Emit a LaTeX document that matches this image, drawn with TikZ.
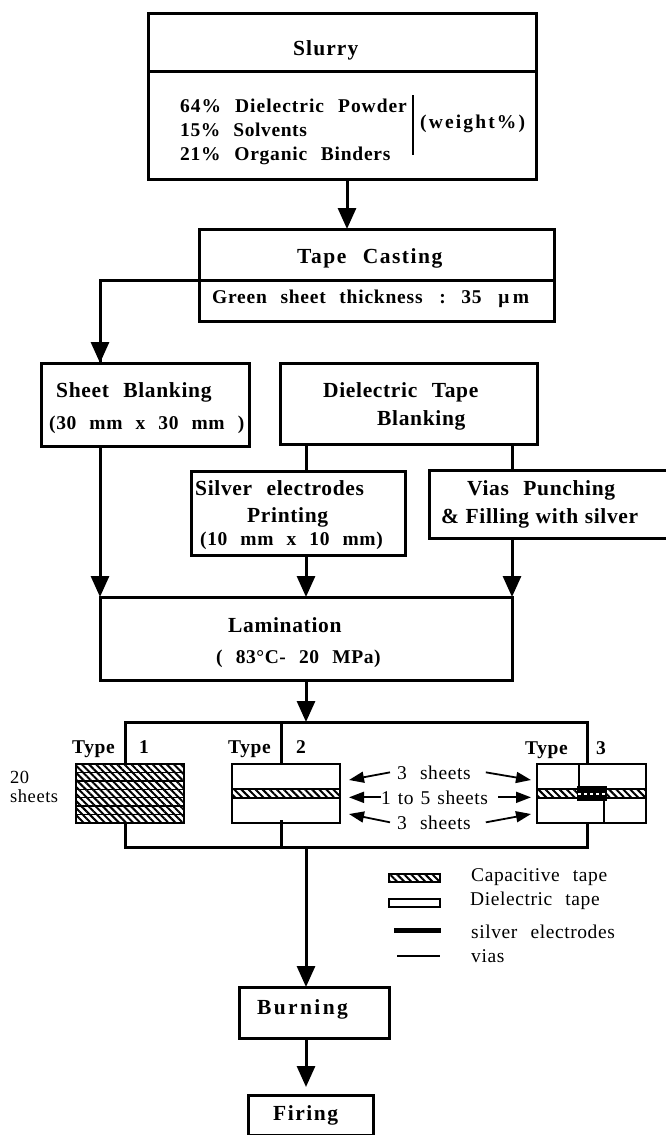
\documentclass[tikz,border=0pt]{standalone}
\usepackage{fontspec}
\setmainfont{Liberation Serif}
\newfontfamily\flowfont[LetterSpace=3,WordSpace=2.4]{Liberation Serif}
\newcommand{\tracked}[1]{\addfontfeature{LetterSpace=#1}}
\usetikzlibrary{arrows.meta,patterns.meta}

\tikzset{
	flowbox/.style={draw, line width=3pt, fill=white, inner sep=0pt, outer sep=0pt},
	thinbox/.style={draw, line width=1.8pt, fill=white, inner sep=0pt, outer sep=0pt},
	flowline/.style={line width=3pt, -{Triangle[length=21pt,width=18pt]}},
	plainline/.style={line width=3pt},
	sheetline/.style={line width=1.8pt, -{Triangle[length=15pt,width=11pt]}},
	headtext/.style={anchor=base west, inner sep=0pt, font=\flowfont\bfseries\fontsize{21.5}{24}\selectfont},
	subtext/.style={anchor=base west, inner sep=0pt, font=\flowfont\bfseries\fontsize{19.5}{22}\selectfont},
	platetext/.style={anchor=base west, inner sep=0pt, font=\flowfont\fontsize{19.5}{22}\selectfont},
	tapehatch/.style={draw, line width=1.5pt, fill=white, postaction={pattern={Lines[angle=-45,distance=5pt,line width=2pt]}}}
}

\begin{document}
\begin{tikzpicture}[x=1pt,y=-1pt]
	\useasboundingbox (0,0) rectangle (665,1135);

	% Columns the connectors run in
	\coordinate (colmain) at (347,0);
	\coordinate (colsheet) at (100,0);
	\coordinate (colmid) at (306,0);
	\coordinate (colvias) at (512,0);
	\coordinate (stubtwo) at (281,0);

	% Slurry
	\node[flowbox, minimum width=388pt, minimum height=58pt] (slurry) at (342,42) {};
	\node[flowbox, minimum width=388pt, minimum height=108pt] (slurrymix) at (342,125) {};
	\node[headtext] (slurrytext) at (293,55) {\tracked{5}Slurry};
	\node[subtext] (mixa) at (180,112) {\tracked{5}64\% Dielectric Powder};
	\node[subtext] (mixb) at (180,136) {15\% Solvents};
	\node[subtext] (mixc) at (180,160) {\tracked{4}21\% Organic Binders};
	\draw[line width=2pt] (413,95) -- (413,155);
	\node[subtext] (weighttext) at (420,128) {\tracked{11}(weight\%)};

	% Tape casting
	\node[flowbox, minimum width=355pt, minimum height=51pt] (tape) at (376.5,254.5) {};
	\node[flowbox, minimum width=355pt, minimum height=41pt] (tapeinfo) at (376.5,300.5) {};
	\node[headtext] (tapetext) at (297,263) {\tracked{7}Tape Casting};
	\node[subtext] (tapeinfotext) at (212,303) {\tracked{4}Green sheet thickness\, : 35 \,μ\,m};

	% Blanking
	\node[flowbox, minimum width=208pt, minimum height=83pt] (sheet) at (145,404.5) {};
	\node[headtext] (sheettext) at (56,397) {Sheet Blanking};
	\node[subtext] (sheetsize) at (49,429) {(30 mm x 30 mm )};
	\node[flowbox, minimum width=257pt, minimum height=81pt] (dielectric) at (408.5,403.5) {};
	\node[headtext] (dielectrica) at (323,397) {Dielectric Tape};
	\node[headtext] (dielectricb) at (377,425) {Blanking};

	% Printing and punching, the second box runs off the page
	\node[flowbox, minimum width=214pt, minimum height=84pt] (silver) at (298,513) {};
	\node[headtext] (silvera) at (195,495) {Silver electrodes};
	\node[headtext] (silverb) at (247,522) {Printing};
	\node[subtext] (silverc) at (200,545) {(10 mm x 10 mm)};
	\node[flowbox, minimum width=251pt, minimum height=68pt] (vias) at (554.5,504) {};
	\node[headtext] (viasa) at (467,495) {Vias Punching};
	\node[headtext] (viasb) at (441,523) {\spaceskip=6.5pt \& Filling with silver};

	% Lamination
	\node[flowbox, minimum width=412pt, minimum height=83pt] (lamination) at (306,638.5) {};
	\node[headtext] (laminationa) at (228,632) {Lamination};
	\node[subtext] (laminationb) at (216,663) {( 83°C- 20 MPa)};

	% Frame round the three types
	\node[flowbox, minimum width=462pt, minimum height=125pt, fill=none] (frame) at (356,784.5) {};
	\draw[plainline] (stubtwo |- frame.north) -- (stubtwo |- frame.south);

	% Type 1, seven capacitive sheets
	\node[thinbox, minimum width=108pt, minimum height=59pt] (typeone) at (130,793.5) {};
	\foreach \i in {0,...,6}
		\draw[tapehatch] (76,{764+\i*8.43}) rectangle (184,{764+(\i+1)*8.43});
	\node[subtext] (typeonetext) at (72,753) {Type};
	\node[subtext] (typeonenum) at (139,753) {1};
	\node[platetext, font=\flowfont\fontsize{18.5}{22}\selectfont] (twenty) at (10,783) {20};
	\node[platetext, font=\flowfont\fontsize{18.5}{22}\selectfont] (twentysheets) at (10,802) {sheets};

	% Type 2
	\node[thinbox, minimum width=108pt, minimum height=59pt] (typetwo) at (286,793.5) {};
	\draw[tapehatch] (232,789) rectangle (340,798);
	\draw[plainline] (stubtwo |- typetwo.south) -- ++(0,-3);
	\node[subtext] (typetwotext) at (228,753) {Type};
	\node[subtext] (typetwonum) at (296,753) {2};

	% Type 3
	\node[thinbox, minimum width=109pt, minimum height=59pt] (typethree) at (591.5,793.5) {};
	\draw[tapehatch] (537,789) rectangle (646,798);
	\draw[line width=1.5pt] (579,764) -- (579,787);
	\draw[line width=1.5pt] (604,800) -- (604,823);
	\fill (577,786) rectangle (607,801);
	\draw[line width=2pt, white, dashed] (578,793.5) -- (606,793.5);
	\node[subtext] (typethreetext) at (525,754) {Type};
	\node[subtext] (typethreenum) at (596,754) {3};

	% Sheet counts
	\node[platetext] (sheetsa) at (397,779) {3 sheets};
	\node[platetext] (sheetsb) at (381,804) {\spaceskip=7pt 1 to 5 sheets};
	\node[platetext] (sheetsc) at (397,829) {3 sheets};
	\coordinate (tipaleft) at (349,780);
	\coordinate (tipbleft) at (349,798);
	\coordinate (tipcleft) at (349,814);
	\coordinate (tiparight) at (531,780);
	\coordinate (tipbright) at (531,798);
	\coordinate (tipcright) at (531,814);
	\draw[sheetline] ([xshift=-7pt]sheetsa.west) -- (tipaleft);
	\draw[sheetline] (sheetsb.west) -- (tipbleft |- sheetsb.west);
	\draw[sheetline] ([xshift=-7pt]sheetsc.west) -- (tipcleft);
	\draw[sheetline] ([xshift=15pt]sheetsa.east) -- (tiparight);
	\draw[sheetline] ([xshift=10pt]sheetsb.east) -- (tipbright |- sheetsb.east);
	\draw[sheetline] ([xshift=15pt]sheetsc.east) -- (tipcright);

	% Legend
	\draw[tapehatch] (389,874) rectangle (440,882);
	\node[platetext] (legenda) at (471,881) {Capacitive tape};
	\draw[line width=1.5pt] (389,899) rectangle (440,907);
	\node[platetext] (legendb) at (470,905) {Dielectric tape};
	\draw[line width=5pt] (394,930) -- (441,930);
	\node[platetext] (legendc) at (471,938) {silver electrodes};
	\draw[line width=1.5pt] (397,956) -- (440,956);
	\node[platetext] (legendd) at (471,962) {vias};

	% Burning and firing, the last box is cut by the page
	\node[flowbox, minimum width=150pt, minimum height=51pt] (burning) at (314,1012.5) {};
	\node[headtext] (burningtext) at (257,1014) {\tracked{11}Burning};
	\node[flowbox, minimum width=125pt, minimum height=40pt] (firing) at (310.5,1115) {};
	\node[headtext] (firingtext) at (273,1120) {\tracked{7}Firing};

	% Connectors
	\draw[flowline] (colmain |- slurrymix.south) -- (colmain |- tape.north);
	\draw[plainline] (tape.south west) -| (colsheet |- sheet.north) coordinate (sheetin);
	\draw[flowline] (colsheet |- tape.south) -- (sheetin);
	\draw[flowline] (colsheet |- sheet.south) -- (lamination.north west);
	\draw[plainline] (colmid |- dielectric.south) -- (colmid |- silver.north);
	\draw[plainline] (colvias |- dielectric.south) -- (colvias |- vias.north);
	\draw[flowline] (colmid |- silver.south) -- (lamination.north);
	\draw[flowline] (colvias |- vias.south) -- (lamination.north east);
	\draw[flowline] (lamination.south) -- (colmid |- frame.north);
	\draw[flowline] (colmid |- frame.south) -- (colmid |- burning.north);
	\draw[flowline, shorten >=8pt] (colmid |- burning.south) -- (colmid |- firing.north);
\end{tikzpicture}
\end{document}
